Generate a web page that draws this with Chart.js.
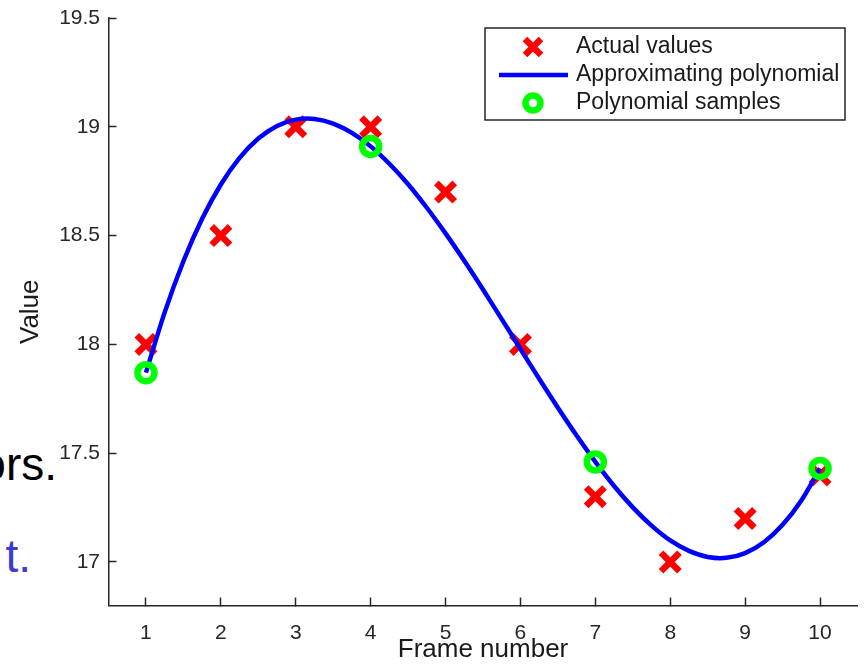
<!DOCTYPE html>
<html>
<head>
<meta charset="utf-8">
<script src="https://cdn.jsdelivr.net/npm/chart.js@4.4.1/dist/chart.umd.min.js"></script>
<style>
    html, body { margin: 0; padding: 0; background: #fff; }
    body { position: relative; width: 864px; height: 668px; overflow: hidden; }
    .slide { position: absolute; font-family: "Liberation Sans", Arial, sans-serif; font-size: 46px; line-height: 46px; white-space: nowrap; }
    #wrap { position: absolute; left: 0; top: 0; width: 864px; height: 668px; }
</style>
</head>
<body>
<!-- restos do texto do slide que fica atrás do gráfico -->
<div class="slide" style="right: 807px; top: 441px; color: #000;">ors.</div>
<div class="slide" style="right: 833px; top: 533px; color: #3c3cd2;">t.</div>
<div id="wrap"><canvas id="grafico" width="864" height="668"></canvas></div>

<script>
// Dados
const quadros = [1, 2, 3, 4, 5, 6, 7, 8, 9, 10];
const valoresReais = [18, 18.5, 19, 19, 18.7, 18, 17.3, 17, 17.2, 17.4];

const curvaX = [1, 1.25, 1.5, 1.75, 2, 2.25, 2.5, 2.75, 3, 3.25, 3.5, 3.75, 4, 4.25, 4.5, 4.75, 5, 5.25, 5.5,
                5.75, 6, 6.25, 6.5, 6.75, 7, 7.25, 7.5, 7.75, 8, 8.25, 8.5, 8.75, 9, 9.25, 9.5, 9.75, 10];
const curvaY = [17.870, 18.147, 18.382, 18.577, 18.735, 18.857, 18.946, 19.004, 19.033, 19.036, 19.015, 18.972,
                18.910, 18.830, 18.736, 18.628, 18.510, 18.384, 18.252, 18.116, 17.979, 17.842, 17.709, 17.581,
                17.460, 17.349, 17.251, 17.167, 17.099, 17.051, 17.023, 17.019, 17.041, 17.091, 17.171, 17.283, 17.430];

const amostrasX = [1, 4, 7, 10];
const amostrasY = [17.87, 18.91, 17.46, 17.43];

const ticksX = [1, 2, 3, 4, 5, 6, 7, 8, 9, 10];
const ticksY = [17, 17.5, 18, 18.5, 19, 19.5];

const legendaTextos = ['Actual values', 'Approximating polynomial', 'Polynomial samples'];

const corEixo = '#262626';
const fonteEixo = 'Liberation Sans, Arial, sans-serif';

// Legenda com caixa, no estilo do MATLAB
const legendaCaixa = {
    id: 'legendaCaixa',
    afterDraw(chart) {
        const ctx = chart.ctx;
        ctx.save();
        ctx.fillStyle = '#fff';
        ctx.fillRect(485, 28, 360, 92);
        ctx.strokeStyle = corEixo;
        ctx.lineWidth = 1.5;
        ctx.strokeRect(485, 28, 360, 92);

        const linhas = [47, 75, 103];
        const cx = 533;

        // X vermelho
        ctx.strokeStyle = '#ff0000';
        ctx.lineWidth = 6.5;
        ctx.beginPath();
        ctx.moveTo(cx - 8, linhas[0] - 8);
        ctx.lineTo(cx + 8, linhas[0] + 8);
        ctx.moveTo(cx + 8, linhas[0] - 8);
        ctx.lineTo(cx - 8, linhas[0] + 8);
        ctx.stroke();

        // linha azul
        ctx.strokeStyle = '#0000ff';
        ctx.lineWidth = 4.5;
        ctx.beginPath();
        ctx.moveTo(499, linhas[1]);
        ctx.lineTo(568, linhas[1]);
        ctx.stroke();

        // círculo verde
        ctx.strokeStyle = '#00ff00';
        ctx.lineWidth = 6.5;
        ctx.beginPath();
        ctx.arc(cx, linhas[2], 7.5, 0, Math.PI * 2);
        ctx.stroke();

        ctx.fillStyle = '#1a1a1a';
        ctx.font = '23px ' + fonteEixo;
        ctx.textAlign = 'left';
        ctx.textBaseline = 'middle';
        legendaTextos.forEach((t, i) => ctx.fillText(t, 576, linhas[i]));
        ctx.restore();
    }
};

const ctx = document.getElementById('grafico').getContext('2d');

const meuGrafico = new Chart(ctx, {
    type: 'scatter',
    data: {
        datasets: [
            {
                label: legendaTextos[0],
                data: quadros.map((x, i) => ({ x: x, y: valoresReais[i] })),
                pointStyle: 'crossRot',
                pointRadius: 13,
                pointBorderWidth: 6.5,
                borderColor: '#ff0000',
                backgroundColor: '#ff0000',
                order: 3
            },
            {
                label: legendaTextos[1],
                data: curvaX.map((x, i) => ({ x: x, y: curvaY[i] })),
                showLine: true,
                tension: 0.3,
                borderColor: '#0000ff',
                borderWidth: 4.5,
                pointRadius: 0,
                order: 2
            },
            {
                label: legendaTextos[2],
                data: amostrasX.map((x, i) => ({ x: x, y: amostrasY[i] })),
                pointStyle: 'circle',
                pointRadius: 8.5,
                pointBorderWidth: 6.5,
                borderColor: '#00ff00',
                backgroundColor: 'rgba(0,0,0,0)',
                order: 1
            }
        ]
    },
    options: {
        responsive: false,
        animation: false,
        layout: { autoPadding: false, padding: { top: 18, right: 6.5, left: 0, bottom: 0 } },
        plugins: {
            legend: { display: false },
            tooltip: { enabled: false }
        },
        scales: {
            x: {
                type: 'linear',
                min: 0.5,
                max: 10.5,
                afterBuildTicks: (scale) => { scale.ticks = ticksX.map(v => ({ value: v })); },
                afterFit: (scale) => { scale.height = 62.5; scale.paddingLeft = 0; scale.paddingRight = 0; },
                border: { display: true, color: corEixo, width: 1.5 },
                grid: { drawOnChartArea: false, drawTicks: true, tickLength: -8, tickColor: corEixo, tickWidth: 1.5 },
                ticks: { padding: 23, color: '#262626', font: { family: fonteEixo, size: 21 }, maxRotation: 0 },
                title: {
                    display: true,
                    text: 'Frame number',
                    color: '#1a1a1a',
                    font: { family: fonteEixo, size: 26 },
                    padding: { top: 0, bottom: 3 }
                }
            },
            y: {
                type: 'linear',
                min: 16.8,
                max: 19.5,
                afterBuildTicks: (scale) => { scale.ticks = ticksY.map(v => ({ value: v })); },
                afterFit: (scale) => { scale.width = 108.5; scale.paddingTop = 0; scale.paddingBottom = 0; },
                border: { display: true, color: corEixo, width: 1.5 },
                grid: { drawOnChartArea: false, drawTicks: true, tickLength: -8, tickColor: corEixo, tickWidth: 1.5 },
                ticks: {
                    padding: 16.5,
                    color: '#262626',
                    font: { family: fonteEixo, size: 21 },
                    callback: (valor) => String(valor)
                },
                title: {
                    display: true,
                    text: 'Value',
                    color: '#1a1a1a',
                    font: { family: fonteEixo, size: 26 },
                    padding: { top: 15.5, bottom: 0 }
                }
            }
        }
    },
    plugins: [legendaCaixa]
});
</script>
</body>
</html>
